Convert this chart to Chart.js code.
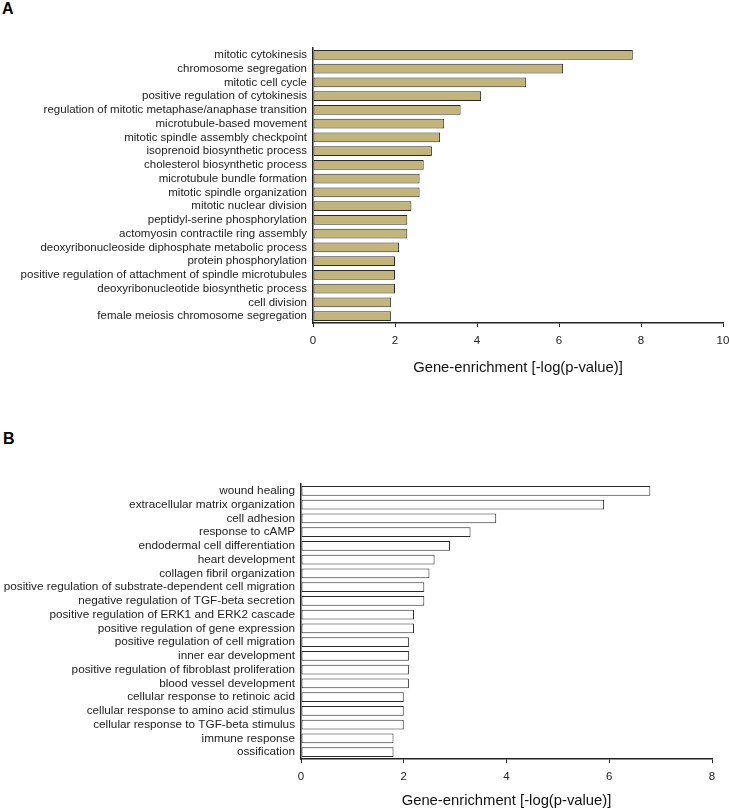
<!DOCTYPE html>
<html lang="en">
<head>
  <meta charset="UTF-8">
  <title>GO enrichment</title>
  <script src="https://cdn.jsdelivr.net/npm/chart.js"></script>
  <style>
    body { margin: 0; background: #fff; width: 729px; height: 810px; position: relative; overflow: hidden; }
    canvas { position: absolute; left: 0; }
    .panel { position: absolute; font: bold 16px "Liberation Sans", Arial, sans-serif; color: #000; }
  </style>
</head>
<body>
  <div class="panel" style="left:2px; top:0px;">A</div>
  <canvas id="chartA" width="729" height="400" style="top:0px"></canvas>
  <div class="panel" style="left:3px; top:430px;">B</div>
  <canvas id="chartB" width="729" height="390" style="top:420px"></canvas>
  <script>

const termsA = [
  'mitotic cytokinesis',
  'chromosome segregation',
  'mitotic cell cycle',
  'positive regulation of cytokinesis',
  'regulation of mitotic metaphase/anaphase transition',
  'microtubule-based movement',
  'mitotic spindle assembly checkpoint',
  'isoprenoid biosynthetic process',
  'cholesterol biosynthetic process',
  'microtubule bundle formation',
  'mitotic spindle organization',
  'mitotic nuclear division',
  'peptidyl-serine phosphorylation',
  'actomyosin contractile ring assembly',
  'deoxyribonucleoside diphosphate metabolic process',
  'protein phosphorylation',
  'positive regulation of attachment of spindle microtubules',
  'deoxyribonucleotide biosynthetic process',
  'cell division',
  'female meiosis chromosome segregation'
];
const valuesA = [7.8, 6.1, 5.2, 4.1, 3.6, 3.2, 3.1, 2.9, 2.7, 2.6, 2.6, 2.4, 2.3, 2.3, 2.1, 2.0, 2.0, 2.0, 1.9, 1.9];

const termsB = [
  'wound healing',
  'extracellular matrix organization',
  'cell adhesion',
  'response to cAMP',
  'endodermal cell differentiation',
  'heart development',
  'collagen fibril organization',
  'positive regulation of substrate-dependent cell migration',
  'negative regulation of TGF-beta secretion',
  'positive regulation of ERK1 and ERK2 cascade',
  'positive regulation of gene expression',
  'positive regulation of cell migration',
  'inner ear development',
  'positive regulation of fibroblast proliferation',
  'blood vessel development',
  'cellular response to retinoic acid',
  'cellular response to amino acid stimulus',
  'cellular response to TGF-beta stimulus',
  'immune response',
  'ossification'
];
const valuesB = [6.8, 5.9, 3.8, 3.3, 2.9, 2.6, 2.5, 2.4, 2.4, 2.2, 2.2, 2.1, 2.1, 2.1, 2.1, 2.0, 2.0, 2.0, 1.8, 1.8];

const xMaxA = 10;
const xMaxB = 8;
const xStep = 2;
const axisTitle = 'Gene-enrichment [-log(p-value)]';

const fontFamily = '"Liberation Sans", Arial, sans-serif';

function makeChart(id, labels, values, opts) {
  const ctx = document.getElementById(id);
  return new Chart(ctx, {
    type: 'bar',
    data: {
      labels: labels,
      datasets: [{
        data: values,
        backgroundColor: opts.fill,
        borderColor: '#2a2a2a',
        borderWidth: 1,
        borderSkipped: false,
        barPercentage: 0.72,
        categoryPercentage: 1
      }]
    },
    options: {
      indexAxis: 'y',
      responsive: false,
      animation: false,
      devicePixelRatio: 1,
      layout: { padding: { top: opts.top, right: opts.right, bottom: 0, left: 0 } },
      plugins: { legend: { display: false }, tooltip: { enabled: false } },
      scales: {
        x: {
          type: 'linear',
          min: 0,
          max: opts.max,
          ticks: { stepSize: xStep, color: '#222', padding: 7, font: { family: fontFamily, size: 11.5 } },
          grid: { drawOnChartArea: false, drawTicks: true, tickLength: 4, color: '#222' },
          border: { display: true, color: '#222', width: 1.5 },
          title: { display: true, text: axisTitle, color: '#111', padding: { top: 0, bottom: opts.titlePad }, font: { family: fontFamily, size: 14.8 } },
          afterFit: function(scale) {
            scale.height = opts.xHeight;
            scale.paddingLeft = 0;
            scale.paddingRight = 0;
          }
        },
        y: {
          ticks: { color: '#222', padding: 6, autoSkip: false, font: { family: fontFamily, size: opts.labelSize } },
          grid: { display: false, drawTicks: false },
          border: { display: true, color: '#222', width: 1.5 },
          afterFit: function(scale) { scale.width = opts.yWidth; }
        }
      }
    }
  });
}

makeChart('chartA', termsA, valuesA, {
  fill: '#c3b47b', max: xMaxA, top: 48, right: 6, yWidth: 313, xHeight: 77, titlePad: 23, labelSize: 11.5
});
makeChart('chartB', termsB, valuesB, {
  fill: '#ffffff', max: xMaxB, top: 64, right: 17, yWidth: 301, xHeight: 51, titlePad: 0, labelSize: 11.75
});

  </script>
</body>
</html>
